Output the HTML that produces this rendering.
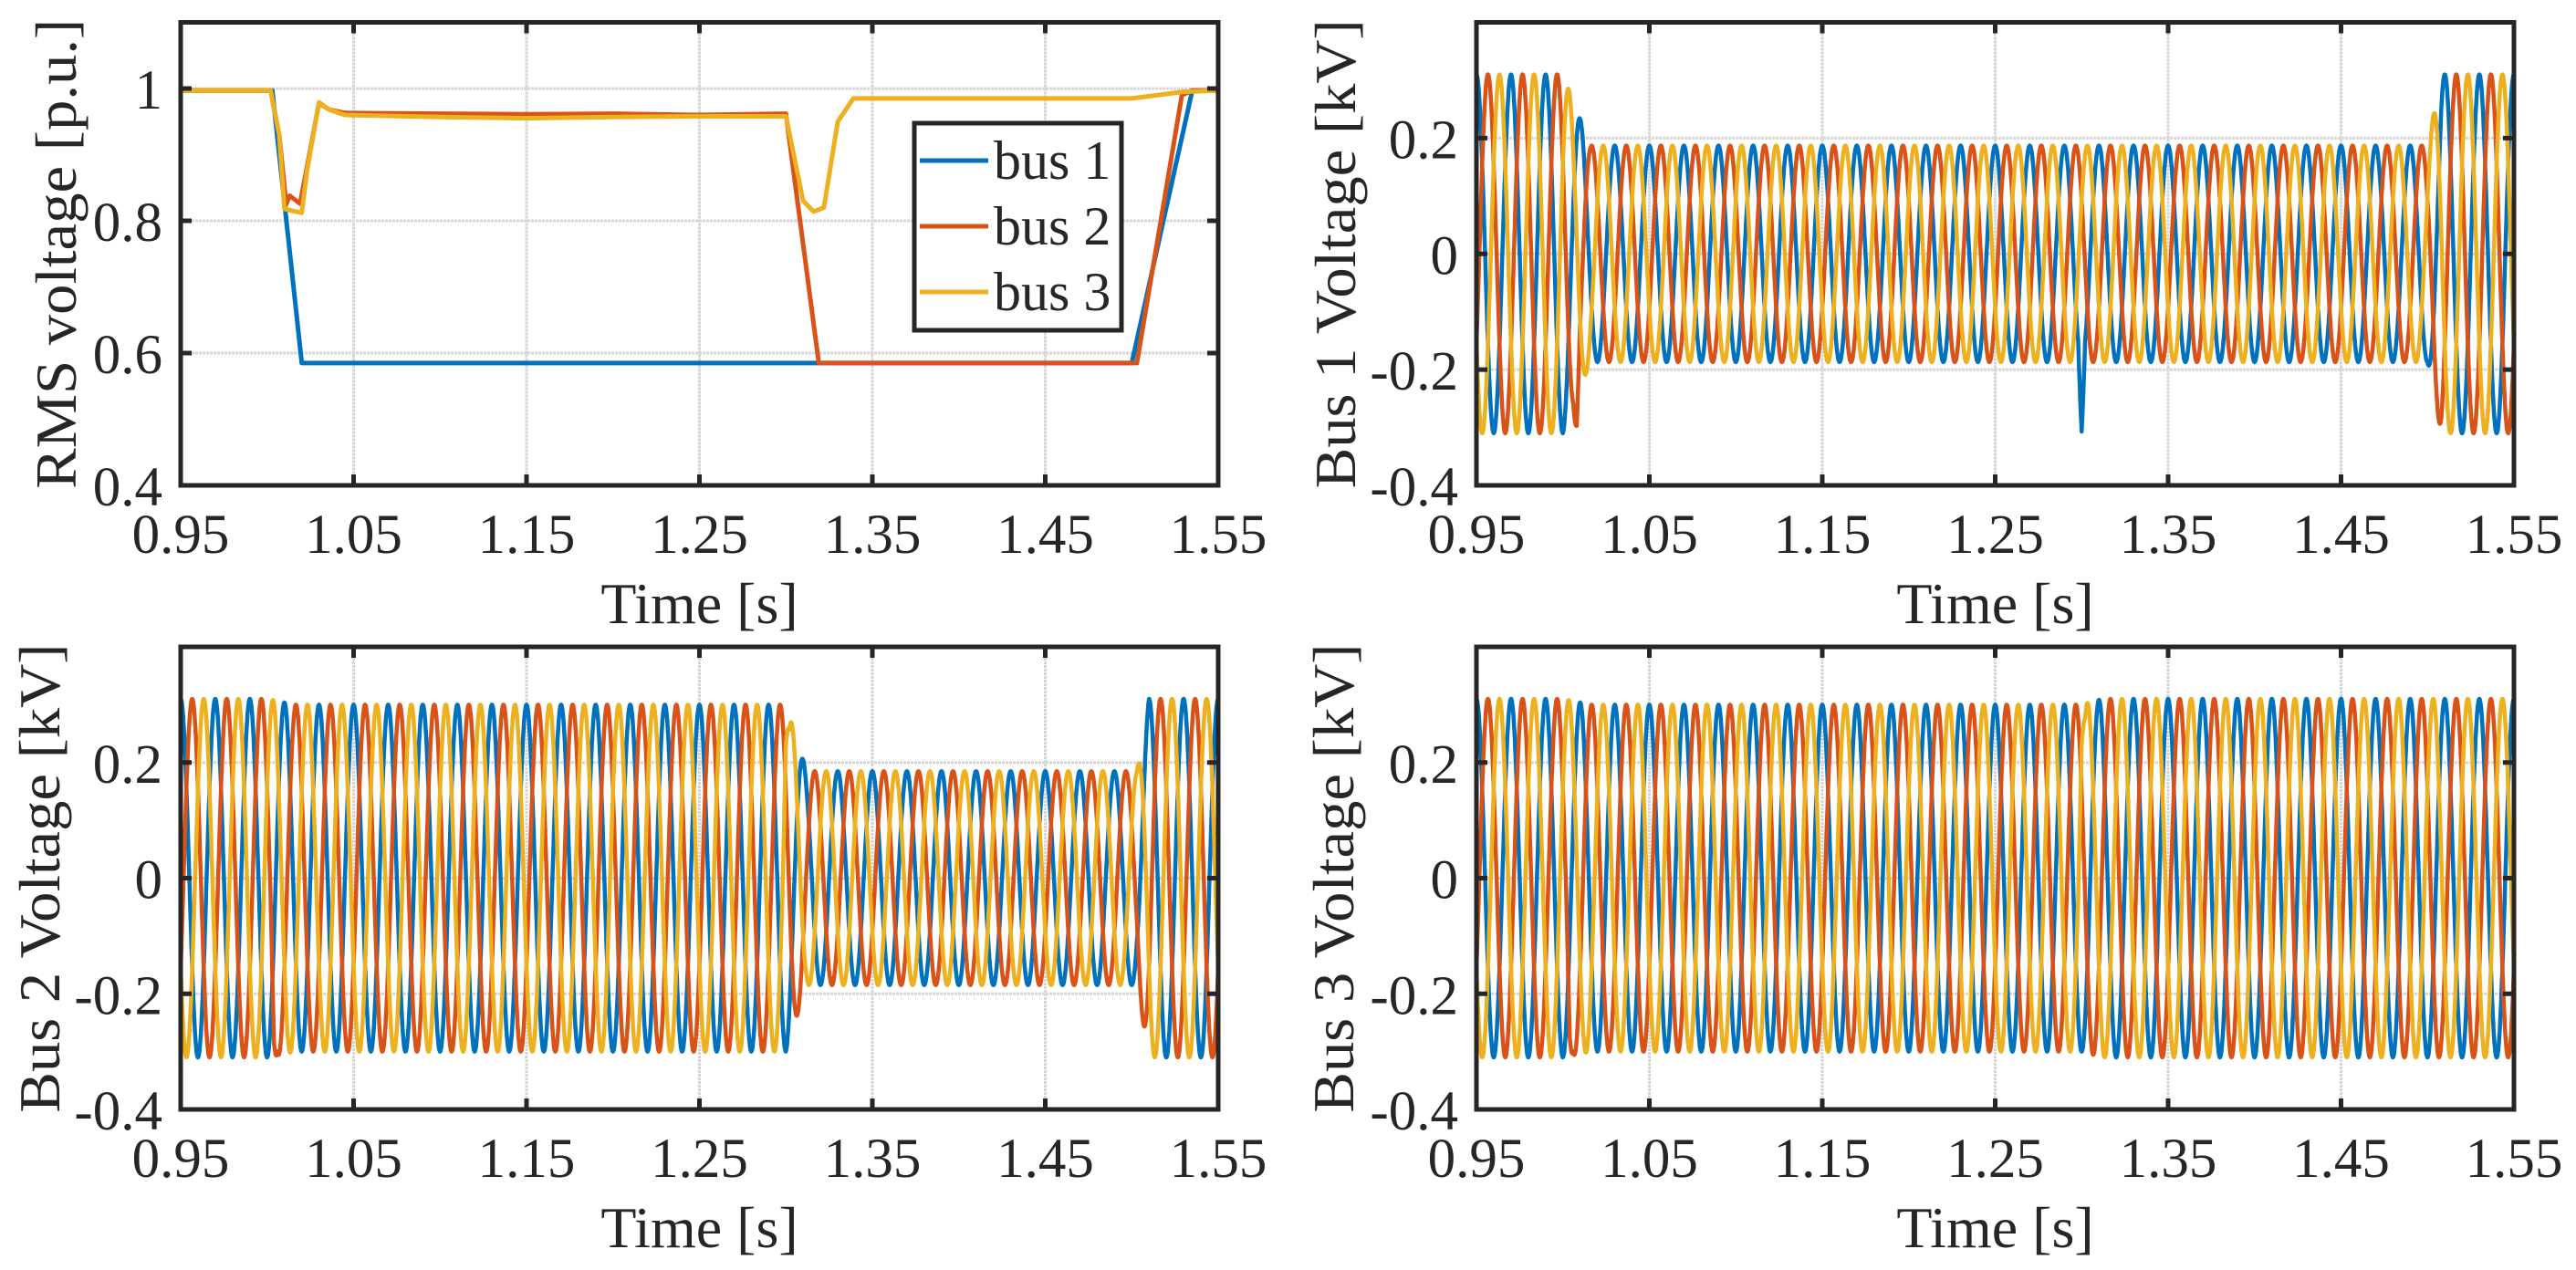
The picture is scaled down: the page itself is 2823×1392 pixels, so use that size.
<!DOCTYPE html>
<html><head><meta charset="utf-8"><style>
html,body{margin:0;padding:0;background:#fff;}
svg{display:block;}
text{font-family:"Liberation Serif",serif;fill:#262626;}
</style></head><body>
<svg id="fig" width="2823" height="1392" viewBox="0 0 2823 1392" xmlns="http://www.w3.org/2000/svg"></svg>
<script>
// ---- data ----
const xTicks = [0.95, 1.05, 1.15, 1.25, 1.35, 1.45, 1.55];
const xTickLabels = ["0.95","1.05","1.15","1.25","1.35","1.45","1.55"];
const rmsTicks = [0.4, 0.6, 0.8, 1];
const rmsTickLabels = ["0.4","0.6","0.8","1"];
const kvTicks = [-0.4, -0.2, 0, 0.2];
const kvTickLabels = ["-0.4","-0.2","0","0.2"];
const seriesNames = ["bus 1","bus 2","bus 3"];
const colors = ["#0072BD","#D95319","#EDB120"];

// RMS voltage series (time, value)
const rms1T = [0.95, 1.0, 1.003, 1.020, 1.022, 1.500, 1.535, 1.55];
const rms1V = [0.997, 0.997, 0.997, 0.585, 0.585, 0.585, 0.997, 0.997];
const rms2T = [0.95, 1.002, 1.007, 1.011, 1.013, 1.019, 1.023, 1.030, 1.036, 1.045, 1.10, 1.15, 1.20, 1.25, 1.30, 1.319, 1.503, 1.529, 1.535, 1.55];
const rms2V = [0.997, 0.997, 0.93, 0.825, 0.838, 0.826, 0.88, 0.978, 0.968, 0.963, 0.962, 0.961, 0.962, 0.960, 0.962, 0.585, 0.585, 0.99, 0.997, 0.997];
const rms3T = [0.95, 1.002, 1.007, 1.010, 1.020, 1.023, 1.030, 1.036, 1.045, 1.10, 1.15, 1.20, 1.25, 1.30, 1.310, 1.316, 1.322, 1.330, 1.339, 1.40, 1.50, 1.53, 1.55];
const rms3V = [0.997, 0.997, 0.93, 0.818, 0.812, 0.874, 0.979, 0.968, 0.960, 0.957, 0.955, 0.957, 0.958, 0.958, 0.83, 0.814, 0.82, 0.95, 0.985, 0.985, 0.985, 0.995, 0.997];

// Waveform amplitude envelopes (kV peak), 50 Hz three-phase
const freqHz = 50;
const bus1EnvT = [0.95, 1.0, 1.016, 1.50, 1.508, 1.55];
const bus1EnvA = [0.31, 0.31, 0.187, 0.187, 0.31, 0.31];
const bus2EnvT = [0.95, 1.0, 1.016, 1.30, 1.312, 1.503, 1.510, 1.55];
const bus2EnvA = [0.31, 0.31, 0.30, 0.30, 0.185, 0.185, 0.31, 0.31];
const bus3EnvT = [0.95, 1.0, 1.016, 1.30, 1.312, 1.55];
const bus3EnvA = [0.31, 0.31, 0.30, 0.30, 0.31, 0.31];
// transient bumps: time, added value, phase index
const bus1SpikeT = [1.008, 1.300]; const bus1SpikeV = [-0.07, -0.12]; const bus1SpikeP = [1, 0];
const bus2SpikeT = [1.004, 1.300]; const bus2SpikeV = [-0.08, 0.08]; const bus2SpikeP = [1, 2];
const bus3SpikeT = [1.004, 1.300]; const bus3SpikeV = [-0.07, 0.08]; const bus3SpikeP = [1, 2];

// ---- drawing ----
const NS = "http://www.w3.org/2000/svg";
const svg = document.getElementById("fig");
function mk(tag, attrs, parent){ const e=document.createElementNS(NS,tag); for(const k in attrs) e.setAttribute(k,attrs[k]); (parent||svg).appendChild(e); return e; }

function interp(T, V, t){
  if(t<=T[0]) return V[0];
  for(let i=1;i<T.length;i++){ if(t<=T[i]){ const f=(t-T[i-1])/(T[i]-T[i-1]); return V[i-1]+f*(V[i]-V[i-1]); } }
  return V[V.length-1];
}

function makeAxes(name, L, R, Tp, B, ymin, ymax, yt, ytl, ylabel, ylabX, ylabLen){
  const g = mk("g", {});
  
  
  const sx = t => L + (t-0.95)/(1.55-0.95)*(R-L);
  const sy = v => B - (v-ymin)/(ymax-ymin)*(B-Tp);
  // grid
  xTicks.forEach(t=>{ const l=mk("line",{x1:sx(t),x2:sx(t),y1:Tp,y2:B,stroke:"#d6d6d6","stroke-width":3,"stroke-dasharray":"3 1"},g);
      });
  yt.forEach(v=>{ const l=mk("line",{x1:L,x2:R,y1:sy(v),y2:sy(v),stroke:"#d6d6d6","stroke-width":3,"stroke-dasharray":"3 1"},g);
      });
  const plot = mk("g", {"clip-path":"url(#clip-"+name+")"}, g);
  const cp = mk("clipPath",{id:"clip-"+name},g); mk("rect",{x:L,y:Tp,width:R-L,height:B-Tp},cp);
  // frame & ticks
  const fr = mk("g",{},g);
   
  xTicks.forEach((t,i)=>{
    mk("line",{x1:sx(t),x2:sx(t),y1:B,y2:B-12,stroke:"#262626","stroke-width":5},fr);
    mk("line",{x1:sx(t),x2:sx(t),y1:Tp,y2:Tp+12,stroke:"#262626","stroke-width":5},fr);
    const tx = mk("text",{x:sx(t),y:B+74,"font-size":61,"text-anchor":"middle"},g);
    tx.textContent = xTickLabels[i];
     
  });
  yt.forEach((v,i)=>{
    mk("line",{x1:L,x2:L+12,y1:sy(v),y2:sy(v),stroke:"#262626","stroke-width":5},fr);
    mk("line",{x1:R,x2:R-12,y1:sy(v),y2:sy(v),stroke:"#262626","stroke-width":5},fr);
    const tx = mk("text",{x:L-20,y:sy(v)+22,"font-size":61,"text-anchor":"end"},g);
    tx.textContent = ytl[i];
     
  });
  mk("rect",{x:L,y:Tp,width:R-L,height:B-Tp,fill:"none",stroke:"#262626","stroke-width":5},fr);
  const xl = mk("text",{x:(L+R)/2,y:B+151,"font-size":64,"text-anchor":"middle"},g);
  xl.textContent = "Time [s]";
   
  const cy=(Tp+B)/2;
  const yl = mk("text",{x:ylabX,y:cy,"font-size":64,"text-anchor":"middle",transform:"rotate(-90 "+ylabX+" "+cy+")",textLength:ylabLen,lengthAdjust:"spacingAndGlyphs"},g);
  yl.textContent = ylabel;
   
  return {g, plot, sx, sy};
}

// RMS panel
const ax1 = makeAxes("rms-voltage-panel",198,1335,24.5,532,0.4,1.1,rmsTicks,rmsTickLabels,"RMS voltage [p.u.]",83,515);
[[rms1T,rms1V],[rms2T,rms2V],[rms3T,rms3V]].forEach((s,i)=>{
  const d = s[0].map((t,j)=>(j?"L":"M")+ax1.sx(t).toFixed(1)+" "+ax1.sy(s[1][j]).toFixed(1)).join(" ");
  const p = mk("path",{d:d,fill:"none",stroke:colors[i],"stroke-width":5,"stroke-linejoin":"round"},ax1.plot);
  
  
});
// legend
const lg = mk("g",{},ax1.g);


mk("rect",{x:1002,y:135,width:227,height:227,fill:"#fff",stroke:"#262626","stroke-width":5},lg);
seriesNames.forEach((n,i)=>{
  const y=176+i*72;
  const e = mk("g",{},lg);
  
  
  mk("line",{x1:1008,x2:1083,y1:y,y2:y,stroke:colors[i],"stroke-width":5},e);
  const t = mk("text",{x:1089,y:y+20,"font-size":60},e);
  t.textContent = n;
});

// waveform panels
function waveform(name, L, R, Tp, B, label, labX, envT, envA, spT, spV, spP){
  const ax = makeAxes(name,L,R,Tp,B,-0.4,0.4,kvTicks,kvTickLabels,label,labX,514);
  const w = 2*Math.PI*freqHz;
  for(let ph=0; ph<3; ph++){
    let d="";
    for(let t=0.95, k=0; t<=1.55001; t+=0.0002, k++){
      let v = interp(envT,envA,t)*Math.cos(w*(t-0.01) - ph*2*Math.PI/3);
      for(let s=0;s<spT.length;s++){ if(spP[s]===ph){ const dt=Math.abs(t-spT[s]); if(dt<0.002) v += spV[s]*(1-dt/0.002); } }
      d += (k?"L":"M")+ax.sx(t).toFixed(1)+" "+ax.sy(v).toFixed(1);
    }
    const p = mk("path",{d:d,fill:"none",stroke:colors[ph],"stroke-width":4.5,"stroke-linejoin":"round"},ax.plot);
    
    
  }
}
waveform("bus1-voltage-panel",1618,2755,24.5,532,"Bus 1 Voltage [kV]",1485,bus1EnvT,bus1EnvA,bus1SpikeT,bus1SpikeV,bus1SpikeP);
waveform("bus2-voltage-panel",198,1335,709,1216,"Bus 2 Voltage [kV]",65,bus2EnvT,bus2EnvA,bus2SpikeT,bus2SpikeV,bus2SpikeP);
waveform("bus3-voltage-panel",1618,2755,709,1216,"Bus 3 Voltage [kV]",1483,bus3EnvT,bus3EnvA,bus3SpikeT,bus3SpikeV,bus3SpikeP);
</script>
</body></html>
